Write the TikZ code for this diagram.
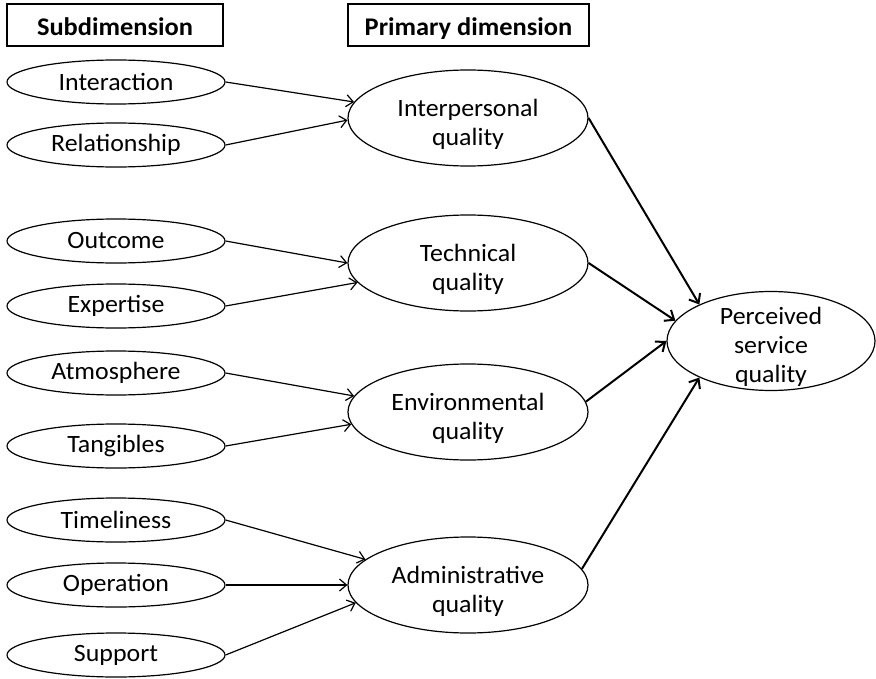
\documentclass[tikz,border=0pt]{standalone}
\usepackage{fontspec}
\setmainfont{Carlito}[FakeStretch=1.04]
\usetikzlibrary{shapes.geometric,arrows.meta}
\newcommand\lowtxt[1]{\raisebox{-13bp}[0pt][0pt]{\begin{tabular}{@{}c@{}}#1\end{tabular}}}
\newcommand\lowhdr[1]{\raisebox{-11bp}[0pt][0pt]{#1}}
\begin{document}
\begin{tikzpicture}[x=1bp,y=-1bp,
  every node/.style={font=\fontsize{25}{29}\selectfont, text=black},
  hdr/.style={draw, line width=1.8bp, minimum width=216bp, minimum height=42bp, inner sep=0pt, font=\fontsize{25.5}{29}\selectfont\bfseries},
  sub/.style={ellipse, draw, line width=1.2bp, minimum width=218bp, minimum height=44bp, inner sep=0pt},
  prim/.style={ellipse, draw, line width=1.2bp, minimum width=240bp, minimum height=96bp, inner sep=0pt},
  arr/.style={-{Straight Barb[length=7bp,width=12bp]}, line width=1.2bp},
  bigarr/.style={-{Straight Barb[length=8bp,width=13bp]}, line width=2bp}]
\useasboundingbox (0,0) rectangle (876,679);
% headers
\node[hdr] (h1) at (115,25) {\lowhdr{Subdimension}};
\node[hdr, minimum width=241bp] (h2) at (468.5,25) {\lowhdr{Primary dimension}};
% subdimensions
\node[sub] (s1) at (116,82) {Interaction};
\node[sub] (s2) at (116,145) {Relationship};
\node[sub] (s3) at (116,241) {Outcome};
\node[sub] (s4) at (116,306) {Expertise};
\node[sub] (s5) at (116,373) {Atmosphere};
\node[sub] (s6) at (116,446) {Tangibles};
\node[sub] (s7) at (116,520) {Timeliness};
\node[sub] (s8) at (116,585) {Operation};
\node[sub] (s9) at (116,655) {Support};
% primary
\node[prim] (ip) at (468,118) {\lowtxt{Interpersonal\\quality}};
\node[prim] (tq) at (468,263) {\lowtxt{Technical\\quality}};
\node[prim] (eq) at (468,412) {\lowtxt{Environmental\\quality}};
\node[prim] (aq) at (468,585) {\lowtxt{Administrative\\quality}};
% outcome
\node[prim, minimum width=208bp, minimum height=99bp] (ps) at (771,341) {\lowtxt{Perceived\\service\\quality}};
% arrows
\draw[arr] (s1.east) -- (ip.172);
\draw[arr] (s2.east) -- (ip.181);
\draw[arr] (s3.east) -- (tq.180);
\draw[arr] (s4.east) -- (tq.190);
\draw[arr] (s5.east) -- (eq.172);
\draw[arr] (s6.east) -- (eq.186);
\draw[arr] (s7.east) -- (aq.166);
\draw[arr] (s8.east) -- (aq.180);
\draw[arr] (s9.east) -- (aq.189);
\draw[bigarr] (ip.east) -- (ps.153);
\draw[bigarr] (tq.east) -- (ps.168);
\draw[bigarr] (eq.5) -- (ps.180);
\draw[bigarr] (aq.8) -- (ps.207);
\end{tikzpicture}
\end{document}
